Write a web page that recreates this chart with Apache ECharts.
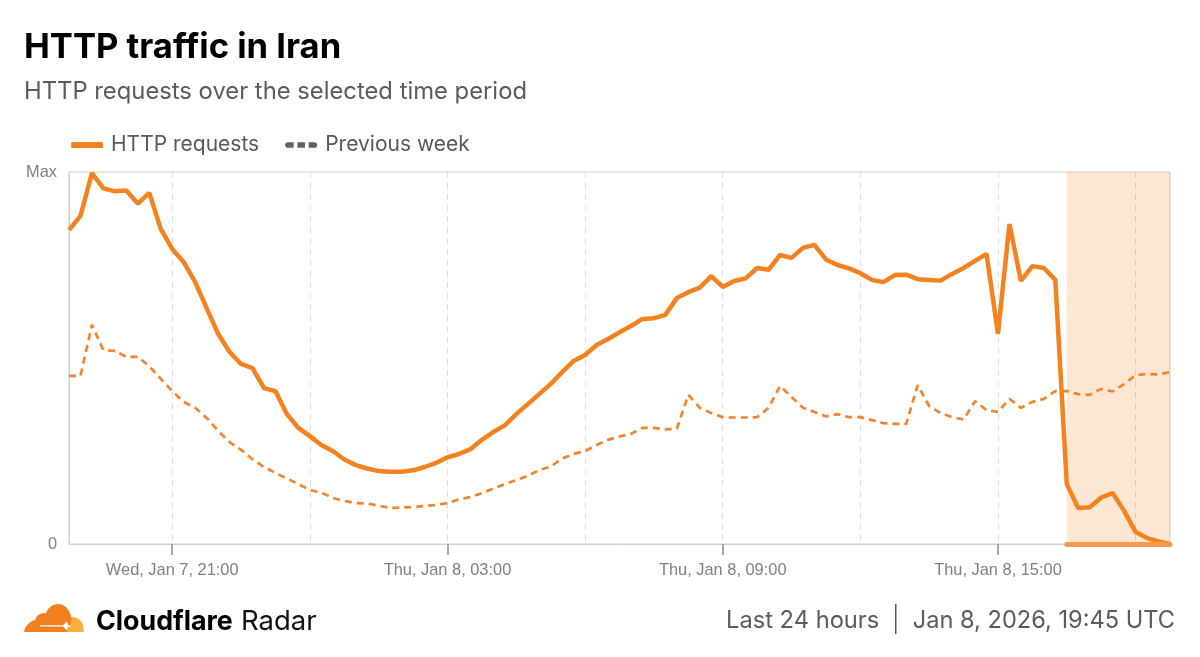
<!DOCTYPE html>
<html>
<head>
<meta charset="UTF-8">
<title>HTTP traffic in Iran</title>
<script src="https://cdn.jsdelivr.net/npm/echarts@6/dist/echarts.min.js"></script>
<style>
  html, body { margin: 0; padding: 0; background: #fff; }
  #chart { width: 1200px; height: 657px; }
</style>
</head>
<body>
<div id="chart"></div>
<script>
// share of the peak, one point per 15 minutes, starting Wed Jan 7 18:45
var httpRequests = [
  84.4, 88.2, 99.7, 95.6, 94.8, 95.0, 91.5, 94.4, 84.7, 79.3, 75.8, 70.4,
  63.4, 56.5, 51.6, 48.4, 47.3, 41.9, 41.1, 34.9, 31.2, 29.0, 26.6, 25.0,
  22.7, 21.2, 20.3, 19.6, 19.4, 19.4, 19.8, 20.7, 21.8, 23.3, 24.2, 25.5,
  28.0, 30.1, 31.9, 34.9, 37.6, 40.3, 43.0, 46.2, 49.2, 50.8, 53.5, 55.1,
  56.9, 58.6, 60.5, 60.7, 61.6, 66.1, 67.7, 68.9, 72.0, 69.1, 70.7, 71.4,
  74.2, 73.7, 77.7, 76.9, 79.6, 80.4, 76.5, 75.0, 74.1, 72.8, 71.0, 70.4,
  72.3, 72.4, 71.2, 71.0, 70.8, 72.6, 74.2, 76.1, 78.0, 56.5, 86.0, 70.7,
  74.7, 74.2, 71.0, 16.1, 9.7, 9.9, 12.5, 13.7, 8.9, 3.2, 1.6, 0.7, 0
];
var previousWeek = [
  45.2, 45.2, 58.9, 52.1, 51.9, 50.3, 50.3, 47.8, 44.4, 41.1, 38.2, 36.6,
  33.9, 30.4, 27.4, 25.3, 22.8, 20.7, 19.1, 17.6, 16.1, 14.5, 13.8, 12.4,
  11.6, 11.0, 10.9, 10.3, 9.7, 9.8, 9.9, 10.2, 10.5, 11.0, 12.0, 12.6,
  13.7, 14.9, 16.1, 17.2, 18.3, 19.9, 20.8, 23.0, 24.2, 25.0, 26.6, 28.0,
  28.9, 29.6, 31.2, 31.2, 30.8, 31.0, 40.1, 36.6, 35.2, 34.1, 34.0, 34.0,
  34.1, 36.6, 42.5, 39.5, 36.6, 35.5, 34.3, 34.9, 34.1, 34.1, 33.3, 32.5,
  32.3, 32.3, 42.7, 37.1, 35.2, 34.1, 33.5, 38.4, 36.0, 35.5, 39.0, 36.6,
  38.2, 39.0, 41.1, 41.1, 40.3, 40.1, 41.7, 41.0, 43.0, 45.4, 45.7, 45.6, 46.2
];
// index of each labelled tick in the series
var tickLabels = {
  9: 'Wed, Jan 7, 21:00',
  33: 'Thu, Jan 8, 03:00',
  57: 'Thu, Jan 8, 09:00',
  81: 'Thu, Jan 8, 15:00'
};
var outageStart = 87;
var outageEnd = 96;

var categories = httpRequests.map(function (v, i) { return i; });

var orange = '#f6821f';
var fontName = 'Inter, "Noto Sans", sans-serif';
var dashIcon = 'path://M2 0H8V6H2A3 3 0 0 1 2 0ZM12 0H20V6H12ZM24 0H30A3 3 0 0 1 30 6H24Z';

var chart = echarts.init(document.getElementById('chart'), null, { renderer: 'canvas' });

chart.setOption({
  animation: false,
  backgroundColor: '#fff',
  textStyle: { fontFamily: fontName },
  title: [{
    text: 'HTTP traffic in Iran',
    left: 24, top: 30, padding: 0,
    textStyle: { fontSize: 34.6, fontWeight: 700, color: '#000', fontFamily: fontName }
  }, {
    text: 'HTTP requests over the selected time period',
    left: 24, top: 80, padding: 0,
    textStyle: { fontSize: 23.8, fontWeight: 400, color: '#5c5c5c', fontFamily: fontName }
  }],
  legend: {
    left: 66, top: 129.5,
    itemWidth: 32, itemHeight: 6, itemGap: 26,
    textStyle: { fontSize: 21, color: '#595959', fontFamily: fontName, padding: [0, 0, 0, 3] },
    data: [
      { name: 'HTTP requests', icon: 'roundRect', itemStyle: { color: orange } },
      { name: 'Previous week', icon: dashIcon, itemStyle: { color: '#616161' } }
    ]
  },
  grid: {
    left: 69, right: 30, top: 172, bottom: 113,
    show: true, borderColor: '#d0d0d0', borderWidth: 1, backgroundColor: 'transparent'
  },
  xAxis: {
    type: 'category',
    data: categories,
    boundaryGap: false,
    axisLine: { lineStyle: { color: '#d0d0d0', width: 1 } },
    axisTick: {
      length: 11,
      lineStyle: { color: '#a8a8a8', width: 2 },
      interval: function (i) { return tickLabels[i] !== undefined; }
    },
    axisLabel: {
      interval: function (i) { return tickLabels[i] !== undefined; },
      formatter: function (v) { return tickLabels[v]; },
      margin: 18.5,
      fontSize: 16.4,
      color: '#808080',
      fontFamily: '"Liberation Sans", Arial, sans-serif'
    },
    splitLine: {
      show: true,
      interval: function (i) { return i % 12 === 9; },
      lineStyle: { color: '#dcdcdc', type: [6, 5], width: 1 }
    }
  },
  yAxis: {
    type: 'value',
    min: 0, max: 100, interval: 100,
    axisLine: { show: true, lineStyle: { color: '#d0d0d0', width: 1 } },
    axisTick: { show: false },
    splitLine: { show: false },
    axisLabel: {
      margin: 12,
      fontSize: 16.4,
      color: '#808080',
      fontFamily: '"Liberation Sans", Arial, sans-serif',
      formatter: function (v) { return v === 100 ? 'Max' : '0'; }
    }
  },
  series: [{
    name: 'HTTP requests',
    type: 'line',
    data: httpRequests,
    showSymbol: false,
    clip: false,
    z: 4,
    lineStyle: { color: orange, width: 4.5, join: 'bevel' },
    itemStyle: { color: orange },
    markArea: {
      silent: true,
      itemStyle: { color: 'rgba(246,130,31,0.2)' },
      data: [[{ xAxis: outageStart }, { xAxis: outageEnd }]]
    },
    markLine: {
      silent: true,
      symbol: 'none',
      label: { show: false },
      lineStyle: { color: '#f8994a', width: 5, type: 'solid', cap: 'round' },
      data: [[{ xAxis: outageStart, yAxis: 0 }, { xAxis: outageEnd, yAxis: 0 }]]
    }
  }, {
    name: 'Previous week',
    type: 'line',
    data: previousWeek,
    showSymbol: false,
    clip: false,
    z: 3,
    lineStyle: { color: '#f5842b', width: 2.7, type: [7, 5] },
    itemStyle: { color: '#616161' }
  }],
  graphic: [
    // logo, built from plain shapes
    {
      type: 'polygon', z: 10,
      shape: { points: [[24, 632], [25, 628], [28, 624], [32, 621], [35, 620], [37, 616], [41, 613.5], [46, 613], [48, 609], [52, 605.5], [57, 604], [62, 604.5], [66, 607], [69, 611], [71, 616], [71.5, 620], [70, 625], [67, 632]] },
      style: { fill: '#f38020' }
    },
    {
      type: 'polygon', z: 9,
      shape: { points: [[67, 632], [70, 624], [70, 617.5], [74, 617], [78, 618.5], [81, 621], [83, 625], [84, 632]] },
      style: { fill: '#faae40' }
    },
    { type: 'polygon', z: 11, shape: { points: [[40, 625.2], [63, 625.2], [67, 621.5], [68, 625], [72, 626], [68, 627], [67, 630.5], [63, 626.6], [40, 626.6]] }, style: { fill: '#fff' } },
    {
      type: 'text', z: 10, left: 96, top: 608,
      style: { text: 'Cloudflare', fontSize: 26.8, fontWeight: 700, fill: '#000', fontFamily: fontName }
    },
    {
      type: 'text', z: 10, left: 241, top: 608,
      style: { text: 'Radar', fontSize: 27.5, fontWeight: 400, fill: '#111', fontFamily: fontName }
    },
    {
      type: 'text', z: 10, left: 726, top: 609,
      style: { text: 'Last 24 hours', fontSize: 23.7, fill: '#5c5c5c', fontFamily: fontName }
    },
    { type: 'rect', z: 10, shape: { x: 895, y: 604, width: 1.5, height: 30 }, style: { fill: '#5c5c5c' } },
    {
      type: 'text', z: 10, right: 25, top: 609,
      style: { text: 'Jan 8, 2026, 19:45 UTC', fontSize: 23.6, fill: '#5c5c5c', fontFamily: fontName }
    }
  ]
});
</script>
</body>
</html>
